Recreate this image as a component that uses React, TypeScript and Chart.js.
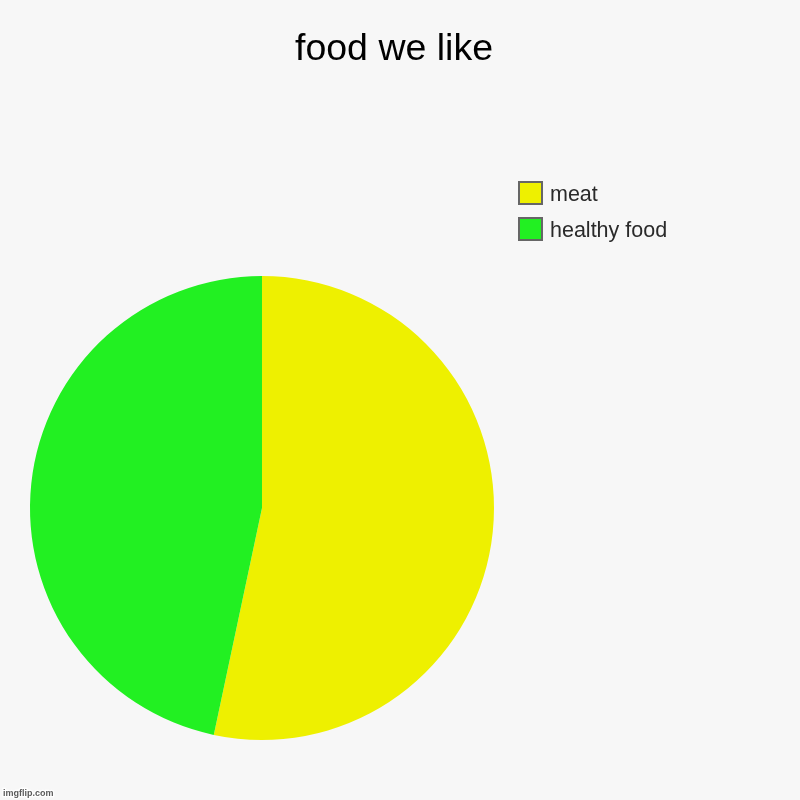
import * as React from 'react';
import {useRef, useEffect} from 'react';
import {Chart, registerables, layouts} from 'chart.js';

Chart.register(...registerables);

const TITLE = 'food we like';
const labels = ['meat', 'healthy food'];
const values = [8, 7];
const colors = ['#eef000', '#22f022'];
const WATERMARK = 'imgflip.com';

const FONT = "Arial, 'Liberation Sans', Helvetica, sans-serif";

// legend drawn in a layout box on the right, so the title can still span the whole width
const sideLegend = {
  id: 'sideLegend',
  beforeInit(chart: any) {
    const box: any = {
      position: 'right',
      weight: 1000,
      fullSize: true,
      options: {},
      left: 0, top: 0, right: 0, bottom: 0, width: 0, height: 0,
      isHorizontal: () => false,
      update(maxWidth: number, maxHeight: number) {
        box.width = 264;
        box.height = maxHeight;
      },
      draw() {
        const ctx = chart.ctx;
        const ds = chart.data.datasets[0];
        const x = box.left + 5;
        ctx.save();
        ctx.font = `21.5px ${FONT}`;
        ctx.textBaseline = 'alphabetic';
        ctx.textAlign = 'left';
        chart.data.labels.forEach((label: string, i: number) => {
          const y = box.top + 182 + i * 36;
          ctx.fillStyle = ds.backgroundColor[i];
          ctx.fillRect(x, y, 23, 22);
          ctx.lineWidth = 2;
          ctx.strokeStyle = '#666666';
          ctx.strokeRect(x, y, 23, 22);
          ctx.fillStyle = '#2a2a2a';
          ctx.fillText(label, x + 31, y + 19);
        });
        ctx.restore();
      },
    };
    box._layers = () => [{z: 0, draw: () => box.draw()}];
    layouts.addBox(chart, box);
  },
};

const watermark = {
  id: 'watermark',
  afterDraw(chart: any) {
    const ctx = chart.ctx;
    ctx.save();
    ctx.font = `bold 9px ${FONT}`;
    ctx.textBaseline = 'alphabetic';
    ctx.lineWidth = 2.5;
    ctx.strokeStyle = '#ffffff';
    ctx.fillStyle = '#5a5a5a';
    ctx.strokeText(WATERMARK, 3, 796);
    ctx.fillText(WATERMARK, 3, 796);
    ctx.restore();
  },
};

function PieChart(): JSX.Element {
  const chartContainer = useRef(null);

  useEffect(() => {
    if (chartContainer && chartContainer.current) {
      // @ts-ignore
      const chart = new Chart(chartContainer.current, {
        type: 'pie',
        data: {
          labels,
          datasets: [{
            data: values,
            backgroundColor: colors,
            borderWidth: 0,
            hoverBorderWidth: 0,
            hoverOffset: 0,
          }],
        },
        options: {
          responsive: false,
          animation: false,
          events: [],
          layout: {padding: {left: 10, right: 22, top: 0, bottom: 60}},
          plugins: {
            legend: {display: false},
            tooltip: {enabled: false},
            title: {
              display: true,
              text: TITLE,
              color: '#000000',
              font: {family: FONT, size: 37.5, weight: 'normal', lineHeight: 1.2},
              padding: {top: 27.5, bottom: 203.5},
            },
          },
        },
        plugins: [sideLegend, watermark],
      });
      return () => {
        return chart.destroy();
      };
    }
  }, []);

  return (
    <div style={{position: 'fixed', left: 0, top: 0, width: 800, height: 800, background: '#f7f7f7'}}>
      <canvas ref={chartContainer} width={800} height={800} />
    </div>
  );
}

export default function App(): JSX.Element {
  return <PieChart />;
}
